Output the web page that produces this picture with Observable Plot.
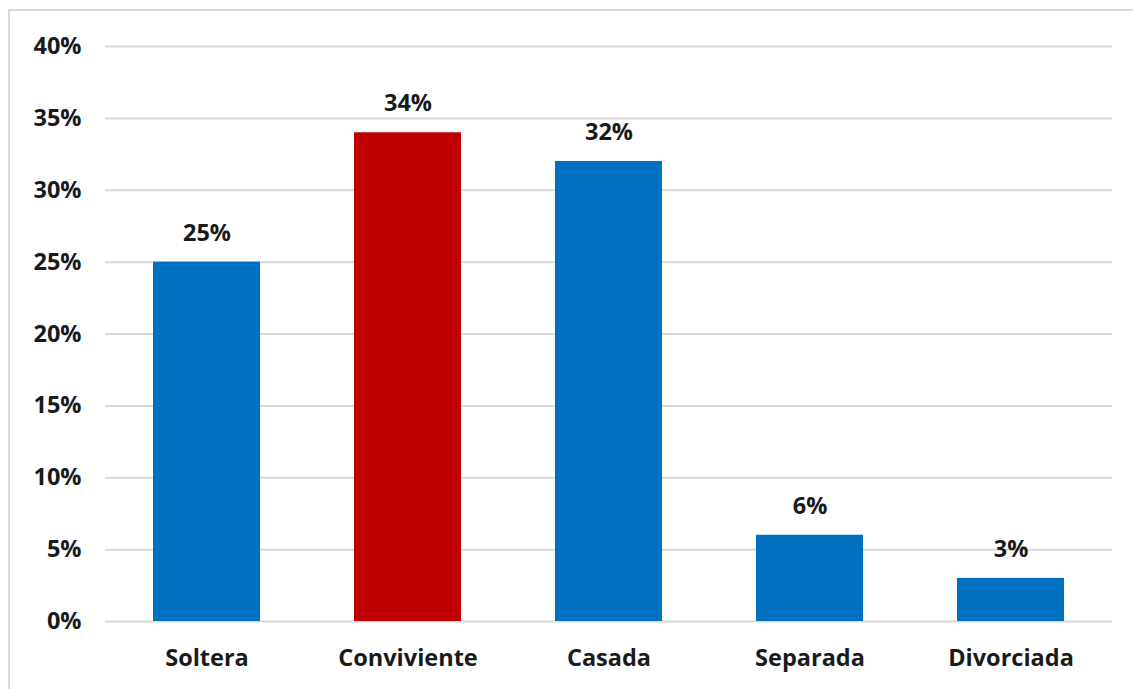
<!DOCTYPE html>
<html>
<head>
<meta charset="utf-8">
<script src="https://cdn.jsdelivr.net/npm/d3@7"></script>
<script src="https://cdn.jsdelivr.net/npm/@observablehq/plot@0.6"></script>
<style>
  html, body { margin: 0; padding: 0; background: #fff; overflow: hidden; }
  #frame { position: absolute; left: 8px; top: 9px; width: 1200px; height: 800px; border: 2px solid #d9d9d9; box-sizing: border-box; }
  #chart { position: absolute; left: 0; top: 0; }
</style>
</head>
<body>
<div id="frame"></div>
<div id="chart"></div>
<script>
const categories = ["Soltera", "Conviviente", "Casada", "Separada", "Divorciada"];
const values = [0.25, 0.34, 0.32, 0.06, 0.03];
const colors = ["#0070c0", "#c00000", "#0070c0", "#0070c0", "#0070c0"];
const yTicks = [0, 0.05, 0.10, 0.15, 0.20, 0.25, 0.30, 0.35, 0.40];

const data = categories.map((c, i) => ({cat: c, value: values[i], color: colors[i]}));
const pct = d3.format(".0%");
const FS = 23.5;

const chart = Plot.plot({
  width: 1133,
  height: 689,
  marginLeft: 105,
  marginRight: 21,
  marginTop: 46,
  marginBottom: 68,
  style: {fontFamily: "'Open Sans', sans-serif", fontSize: FS + "px", fontWeight: "bold", color: "#1a1a1a", background: "transparent"},
  x: {domain: categories, paddingInner: 0.47, paddingOuter: 0.235, label: null},
  y: {domain: [0, 0.4], label: null},
  marks: [
    Plot.gridY(yTicks, {stroke: "#d9d9d9", strokeOpacity: 1, strokeWidth: 2}),
    Plot.barY(data, {x: "cat", y: "value", fill: "color"}),
    Plot.text(data, {x: "cat", y: "value", text: d => pct(d.value), dy: -29, fontSize: FS, fontWeight: "bold", fill: "#1a1a1a"}),
    Plot.axisY(yTicks, {tickFormat: pct, tickSize: 0, tickPadding: 24, fontSize: FS, fontWeight: "bold"}),
    Plot.axisX({tickSize: 0, tickPadding: 28, fontSize: FS, fontWeight: "bold"})
  ]
});
document.getElementById("chart").appendChild(chart);
</script>
</body>
</html>
